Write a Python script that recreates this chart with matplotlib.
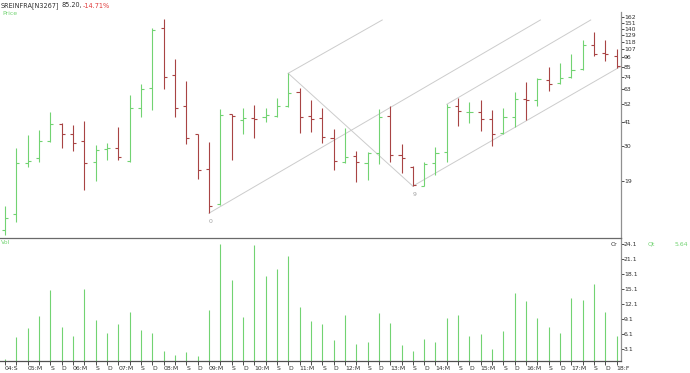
import matplotlib
matplotlib.use('Agg')
import matplotlib.pyplot as plt
import numpy as np

# ---------------- data (quarterly OHLC, Sep-2004 .. Feb-2018) ----------------
opens = [10.0, 12.3, 24.1, 25.5, 32.0, 40.2, 35.2, 32.0, 24.2, 28.7,
         29.3, 24.5, 49.5, 63.8, 140.4, 76.1, 50.4, 34.9, 22.2, 14.0,
         45.4, 42.1, 43.4, 44.0, 44.6, 50.6, 60.6, 44.4, 43.4, 33.1,
         24.3, 26.3, 24.1, 27.2, 44.4, 26.6, 22.6, 17.8, 23.9, 27.6,
         50.6, 46.6, 47.0, 42.5, 35.4, 44.0, 55.3, 54.8, 71.2, 68.2,
         73.8, 82.0, 112.8, 101.0, 97.6]
highs = [13.65, 29.3, 34.6, 37.0, 46.6, 40.7, 39.5, 41.6, 30.2, 31.3,
         38.5, 58.2, 67.3, 141.0, 158.0, 93.8, 70.3, 35.2, 31.6, 48.5,
         45.6, 49.3, 51.3, 49.3, 56.0, 77.8, 63.8, 54.8, 49.1, 37.5,
         37.8, 28.1, 27.8, 48.5, 50.6, 30.8, 23.1, 24.2, 29.7, 51.8,
         56.5, 53.2, 54.8, 48.0, 49.1, 60.8, 69.7, 72.8, 84.1, 89.4,
         99.8, 120.4, 133.1, 120.4, 106.5]
lows = [9.3, 11.05, 22.7, 24.4, 31.7, 29.1, 28.1, 16.8, 19.0, 24.9,
        25.1, 24.4, 44.0, 48.0, 63.0, 43.8, 30.9, 19.5, 12.4, 13.8,
        24.9, 34.9, 33.4, 41.2, 44.0, 49.8, 35.4, 36.2, 31.0, 21.9,
        24.1, 18.8, 19.2, 23.6, 24.2, 21.1, 17.7, 17.8, 20.5, 24.4,
        39.0, 40.7, 36.5, 30.1, 35.1, 38.3, 42.1, 50.6, 61.4, 67.3,
        72.8, 81.3, 97.6, 91.4, 83.0]
closes = [11.7, 23.9, 24.6, 32.0, 39.8, 35.1, 31.2, 23.9, 28.6, 29.3,
          26.0, 49.1, 63.0, 137.3, 73.8, 49.3, 33.3, 21.8, 13.7, 45.2,
          44.4, 43.1, 42.5, 45.0, 50.4, 60.3, 44.0, 42.7, 33.6, 24.5,
          26.0, 24.4, 27.2, 44.0, 26.7, 25.7, 18.0, 23.8, 27.5, 50.2,
          47.4, 47.0, 42.5, 34.9, 43.6, 55.3, 54.8, 71.9, 67.6, 72.8,
          81.3, 112.8, 100.2, 99.9, 85.2]
volumes = [1.1, 5.43, 7.23, 9.57, 14.77, 7.37, 5.7, 15.03, 8.83, 6.23,
           7.97, 10.43, 6.77, 6.17, 2.57, 1.9, 2.43, 1.63, 10.77, 24.03,
           16.83, 9.43, 23.9, 17.63, 19.03, 21.57, 11.43, 8.7, 8.03, 4.77,
           9.9, 4.1, 4.37, 10.17, 8.23, 3.83, 2.7, 5.03, 4.37, 9.23,
           9.9, 5.7, 6.03, 3.1, 6.57, 14.17, 12.7, 9.17, 7.5, 6.17,
           13.23, 12.9, 16.03, 10.43, 5.64]

# x-axis labels (one per quarterly bar)
year_labels = ['05', '06', '07', '08', '09', '10', '11', '12', '13', '14', '15', '16', '17']
x_labels = ['04:S', '']
for yy in year_labels:
    x_labels += [yy + ':M', '', 'S', 'D']
x_labels += ['18:F']

price_ticks = [19, 30, 41, 52, 63, 74, 85, 96, 107, 118, 129, 140, 151, 162]
vol_ticks = [3.1, 6.1, 9.1, 12.1, 15.1, 18.1, 21.1, 24.1]

# pitchfork / channel lines: (start bar, start price, end bar, end price)
line_x0 = [18, 25, 25, 39, 36]
line_p0 = [12.4, 77.8, 77.8, 51.8, 17.7]
line_x1 = [47.26, 33.3, 36, 51.7, 54.33]
line_p1 = [156.6, 156.6, 17.7, 156.6, 85.0]
pivot_bars = [18, 36]
pivot_prices = [12.4, 17.7]
pivot_names = ['0', '9']

last_close = 85.20
change_pct = -14.71

# ---------------- styling ----------------
GREEN = '#72d372'
RED = '#a84444'
GREY = '#cccccc'
FS = 4.4
LW = 0.8
W, H = 690, 373

fig = plt.figure(figsize=(W / 100, H / 100), dpi=100)
fig.patch.set_facecolor('white')

def fx(px):
    return px / W

def fy(py):
    return 1 - py / H

ax_left, ax_right = 0, 620.5
p_top, p_bot = 12, 238
v_top, v_bot = 238, 360.7

axv = fig.add_axes([fx(ax_left), fy(v_bot), fx(ax_right - ax_left), (v_bot - v_top) / H])
axp = fig.add_axes([fx(ax_left), fy(p_bot), fx(ax_right - ax_left), (p_bot - p_top) / H])
axp.patch.set_alpha(0)
axv.patch.set_alpha(0)

n = len(opens)
x = np.arange(n)
tick_w = 0.27

for i in range(n):
    c = GREEN if closes[i] >= opens[i] else RED
    axp.vlines(x[i], lows[i], highs[i], color=c, lw=LW)
    axp.hlines(opens[i], x[i] - tick_w, x[i], color=c, lw=LW)
    axp.hlines(closes[i], x[i], x[i] + tick_w, color=c, lw=LW)

for i in range(len(line_x0)):
    axp.plot([line_x0[i], line_x1[i]], [line_p0[i], line_p1[i]], color=GREY, lw=0.7, zorder=0)

for b, p, t in zip(pivot_bars, pivot_prices, pivot_names):
    axp.annotate(t, (b, p), xytext=(0, -4), textcoords='offset points',
                 ha='left', va='top', fontsize=FS, color='#a0a0a0')

xlim = (-0.44, 54.33)
axp.set_yscale('log')
axp.set_ylim(8.96, 173.9)
axp.set_xlim(*xlim)
axp.set_yticks(price_ticks)
axp.set_yticklabels([str(t) for t in price_ticks])
axp.yaxis.set_minor_locator(matplotlib.ticker.NullLocator())
axp.yaxis.tick_right()
axp.tick_params(axis='y', which='major', length=2, width=0.6, pad=0.5,
                labelsize=FS, colors='#303030')
axp.set_xticks([])
for s in ['top', 'left']:
    axp.spines[s].set_visible(False)
axp.spines['right'].set_color('#909090')
axp.spines['right'].set_linewidth(0.9)
axp.spines['bottom'].set_color('#6a6a6a')
axp.spines['bottom'].set_linewidth(0.9)
axp.spines['bottom'].set_zorder(5)

# volume panel
axv.vlines(x, 0, volumes, color=GREEN, lw=LW)
axv.set_xlim(*xlim)
axv.set_ylim(0.7, 25.23)
axv.set_yticks(vol_ticks)
axv.set_yticklabels([f'{t:.1f}' for t in vol_ticks])
axv.yaxis.tick_right()
axv.tick_params(axis='y', length=2, width=0.6, pad=0.5, labelsize=FS, colors='#303030')
axv.set_xticks(x)
axv.set_xticklabels(x_labels, ha='left')
axv.tick_params(axis='x', length=3, width=0.6, pad=0.5, labelsize=FS, colors='#303030')
for lbl in axv.get_xticklabels():
    lbl.set_horizontalalignment('left')
for s in ['top', 'left']:
    axv.spines[s].set_visible(False)
axv.spines['right'].set_color('#909090')
axv.spines['right'].set_linewidth(0.9)
axv.spines['bottom'].set_color('#505050')
axv.spines['bottom'].set_linewidth(0.9)

# header texts
fig.text(fx(1), fy(5.5), 'SREINFRA[N3267]', fontsize=FS + 0.3, color='#303030', va='center', ha='left')
fig.text(fx(62), fy(5.5), f'{last_close:.2f},', fontsize=FS + 0.3, color='#303030', va='center', ha='left')
fig.text(fx(83), fy(5.5), f'{change_pct:.2f}%', fontsize=FS + 0.3, color='#e03c3c', va='center', ha='left')
fig.text(fx(2), fy(13.5), 'Price', fontsize=FS, color=GREEN, va='center', ha='left')
fig.text(fx(1), fy(243), 'Vol', fontsize=FS, color=GREEN, va='center', ha='left')
fig.text(fx(611), fy(244.5), 'Cr', fontsize=FS, color='#303030', va='center', ha='left')
fig.text(fx(648), fy(244.5), 'Qt', fontsize=FS, color=GREEN, va='center', ha='left')
fig.text(fx(675), fy(244.5), f'{volumes[-1]:.2f}', fontsize=FS, color=GREEN, va='center', ha='left')

fig.savefig('out.png', dpi=100, facecolor='white')
